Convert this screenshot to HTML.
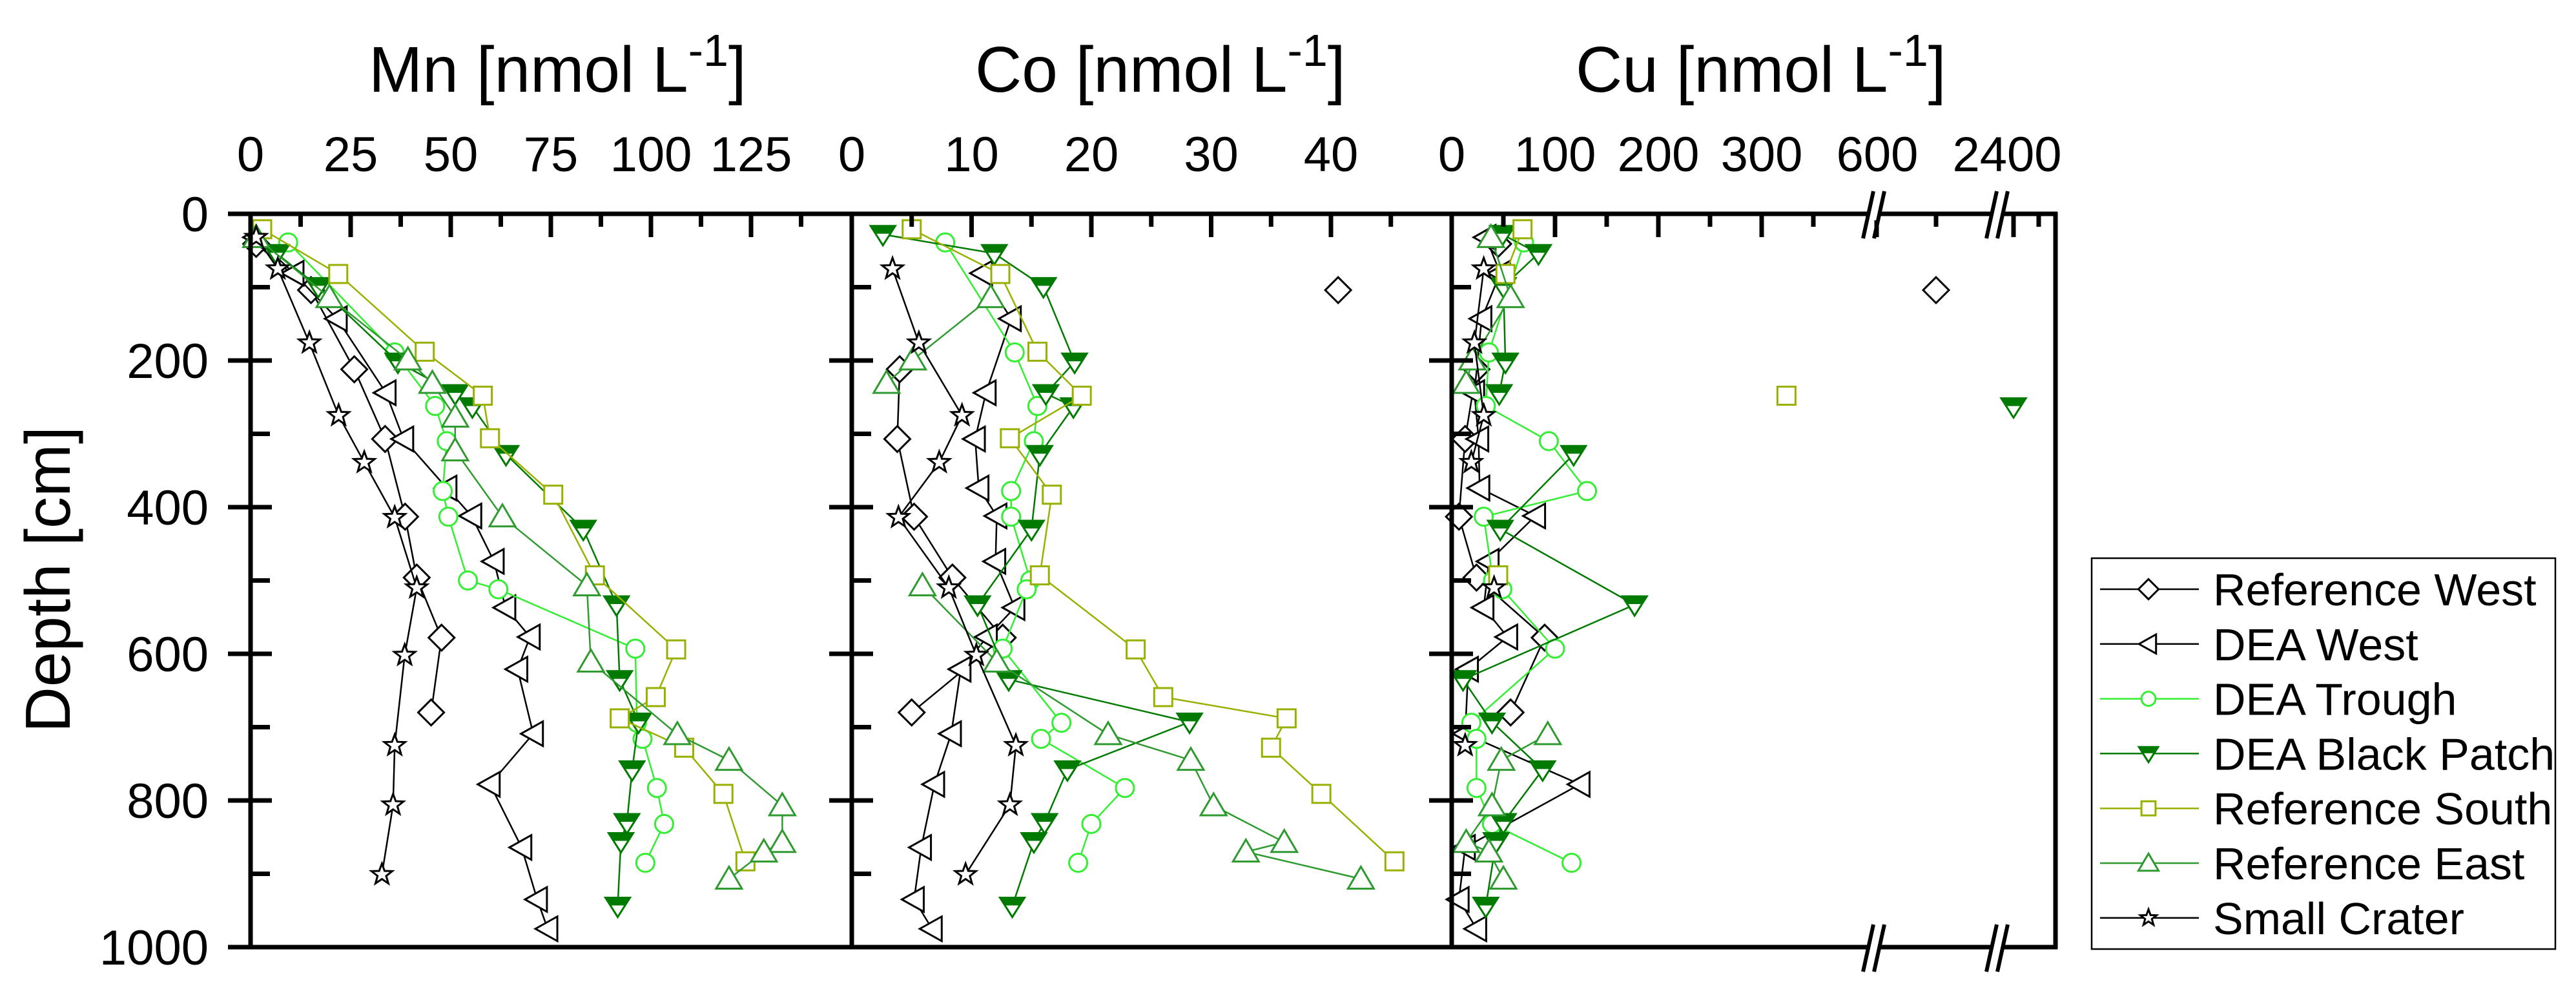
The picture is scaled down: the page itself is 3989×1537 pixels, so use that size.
<!DOCTYPE html>
<html><head><meta charset="utf-8">
<style>
html,body{margin:0;padding:0;background:#fff;}
svg{display:block;font-family:"Liberation Sans",Arial,sans-serif;}
</style></head>
<body>
<svg id="chart" width="3989" height="1537" viewBox="0 0 3989 1537" xmlns="http://www.w3.org/2000/svg">
<rect width="3989" height="1537" fill="#fff"/>
<g id="marks"></g>
<g id="axes"></g>
</svg>
<script>
// ---------- data ----------
const seriesNames = ["Reference West","DEA West","DEA Trough","DEA Black Patch","Reference South","Reference East","Small Crater"];
const refWestDepth = [41,104,212,307,413,496,578,680];
const refWestMn = [1.4,15.1,25.9,33.6,38.6,41.5,47.7,45.1];
const refWestCo = [null,40.6,4,3.8,5.2,8.4,12.6,5];
const refWestCu = [45,650,24,13,7,24,90,57];
const deaWestDepth = [32,81,143,244,307,374,412,474,537,577,621,709,778,864,935,975];
const deaWestMn = [1.2,10.8,21.6,33.8,38.2,49,55.2,60.8,63.7,69.8,66.7,70.6,59.8,67.7,71.6,74.2];
const deaWestCo = [null,10.9,13.3,11.2,10.3,10.6,12.1,12,13.6,11.3,9.1,8.3,6.9,5.8,5.2,6.7];
const deaWestCu = [33,47,29,22,26,27,81,36,31,54,16,13,124,13,7,24];
const troughDepth = [39,189,262,310,378,413,500,512,593,694,716,783,832,885];
const troughMn = [9.4,36,46.1,49,48,49.4,54.3,61.9,96.1,96.5,97.9,101.5,103.3,98.6];
const troughCo = [7.8,13.6,15.5,15.2,13.3,13.3,14.9,14.6,12.6,17.5,15.8,22.8,20,18.9];
const troughCu = [70,36,33,94,131,31,40,49,100,19,24,24,39,116];
const blackDepth = [28,54,99,202,245,263,328,430,533,635,693,758,830,856,944];
const blackMn = [null,6.5,16.9,36.8,51.1,55.4,63.8,83.1,91.4,92.2,96.9,95.3,94,92.5,91.7];
const blackCo = [2.6,11.9,16,18.6,16.2,18.5,15.7,15,10.5,13.1,28.2,18,16.1,15.2,13.4];
const blackCu = [49,84,50,52,46,2400,118,47,177,11,39,88,50,43,33];
const southDepth = [21,82,188,248,306,383,493,594,659,688,728,791,883];
const southMn = [2.9,21.9,43.5,58,59.8,75.6,86,106.3,101.2,92.2,108.3,118.1,123.6];
const southCo = [5,12.4,15.5,19.2,13.2,16.7,15.7,23.7,26,36.3,35,39.2,45.3];
const southCu = [68.5,52,null,324,null,null,45,null,null,null,null,null,null];
const eastDepth = [32,114,199,231,277,323,413,507,611,710,745,807,857,870,907];
const eastMn = [1.4,19.7,39.3,45.4,51.1,51.1,62.9,84,85,106.6,119.5,132.8,132.8,128.2,119.5];
const eastCo = [null,11.6,5.1,2.9,null,null,null,5.9,12.1,21.4,28.3,30.2,36.1,32.9,42.5];
const eastCu = [38,57,20,14,null,null,null,null,null,93,48,39,14,36,50];
const craterDepth = [32,75,176,275,339,414,510,602,725,806,901];
const craterMn = [1.4,6.8,14.7,22,28.4,36,41.5,38.5,36,35.6,32.8];
const craterCo = [null,3.4,5.6,9.2,7.3,3.9,8.1,10.4,13.7,13.2,9.5];
const craterCu = [null,31,22,31,19,null,41,null,13,null,null];
const mnTicks = [0,25,50,75,100,125];
const coTicks = [0,10,20,30,40];
const cuTicks = [0,100,200,300];
const depthTicks = [0,200,400,600,800,1000];

// ---------- scales ----------
const TOP=331, BOT=1466, L=388, D1=1319, D2=2248, R=3183;
function yS(d){return TOP + d*1.135;}
function xMn(v){return L + v*6.2;}
function xCo(v){return D1 + v*18.55;}
function xCu(v){ if(v<=420) return D2 + v*1.6; if(v<=1500) return 2906 + (v-600)*1.84; return 3118 + (v-2400)*0.78; }

const NS="http://www.w3.org/2000/svg";
const marks=document.getElementById('marks');
const axes=document.getElementById('axes');
function el(tag,attrs,parent){const e=document.createElementNS(NS,tag);for(const k in attrs)e.setAttribute(k,attrs[k]);(parent||marks).appendChild(e);return e;}

const styles=[
 {color:"#000000",shape:"diamond",fill:"#fff"},
 {color:"#000000",shape:"left",fill:"#fff"},
 {color:"#33ee33",shape:"circle",fill:"#fff"},
 {color:"#007a00",shape:"down",fill:"#007a00"},
 {color:"#9ab000",shape:"square",fill:"#fff"},
 {color:"#2f9a2f",shape:"up",fill:"#fff"},
 {color:"#000000",shape:"star",fill:"#fff"}
];
function marker(shape,x,y,c,f,g,s){
 s=s||1;let e;
 if(shape==="diamond"){e=el('polygon',{points:`${x},${y-20*s} ${x+20*s},${y} ${x},${y+20*s} ${x-20*s},${y}`},g);}
 else if(shape==="left"){e=el('polygon',{points:`${x-19*s},${y} ${x+15*s},${y-19*s} ${x+15*s},${y+19*s}`},g);}
 else if(shape==="up"){e=el('polygon',{points:`${x},${y-19*s} ${x+20*s},${y+15*s} ${x-20*s},${y+15*s}`},g);}
 else if(shape==="down"){
   e=el('polygon',{points:`${x-19*s},${y-13*s} ${x+19*s},${y-13*s} ${x},${y+17*s}`},g);
   e.setAttribute('fill','#fff');e.setAttribute('stroke',c);e.setAttribute('stroke-width',3);
   el('polygon',{points:`${x-19*s},${y-13*s} ${x+19*s},${y-13*s} ${x+12*s},${y-2*s} ${x-12*s},${y-2*s}`,fill:c,stroke:c,'stroke-width':2},g);
   return;}
 else if(shape==="circle"){e=el('circle',{cx:x,cy:y,r:14*s},g);}
 else if(shape==="square"){e=el('rect',{x:x-14*s,y:y-14*s,width:28*s,height:28*s},g);}
 else if(shape==="star"){let p=[];for(let i=0;i<10;i++){const r=(i%2?7:17)*s;const a=-Math.PI/2+i*Math.PI/5;p.push((x+r*Math.cos(a)).toFixed(1)+','+(y+r*Math.sin(a)).toFixed(1));}e=el('polygon',{points:p.join(' ')},g);}
 e.setAttribute('fill',f);e.setAttribute('stroke',c);e.setAttribute('stroke-width',3);
}
const panels=[
 {key:'mn',xs:xMn,data:[[refWestDepth,refWestMn],[deaWestDepth,deaWestMn],[troughDepth,troughMn],[blackDepth,blackMn],[southDepth,southMn],[eastDepth,eastMn],[craterDepth,craterMn]],solo:[[],[],[],[],[],[],[]]},
 {key:'co',xs:xCo,data:[[refWestDepth,refWestCo],[deaWestDepth,deaWestCo],[troughDepth,troughCo],[blackDepth,blackCo],[southDepth,southCo],[eastDepth,eastCo],[craterDepth,craterCo]],solo:[[1],[],[],[],[],[],[]]},
 {key:'cu',xs:xCu,data:[[refWestDepth,refWestCu],[deaWestDepth,deaWestCu],[troughDepth,troughCu],[blackDepth,blackCu],[southDepth,southCu],[eastDepth,eastCu],[craterDepth,craterCu]],solo:[[1],[],[],[5],[3],[],[]]}
];
panels.forEach(p=>{
 p.data.forEach((sd,si)=>{
  const st=styles[si];const dep=sd[0],val=sd[1];
  const g=el('g',{});
  
  
  let seg=[];
  const flush=()=>{if(seg.length>1)el('polyline',{points:seg.join(' '),fill:'none',stroke:st.color,'stroke-width':2.5},g);seg=[];};
  for(let i=0;i<dep.length;i++){
   if(val[i]===null||p.solo[si].includes(i)){flush();continue;}
   seg.push(p.xs(val[i]).toFixed(1)+','+yS(dep[i]).toFixed(1));
  }
  flush();
  for(let i=0;i<dep.length;i++){ if(val[i]===null)continue;
   marker(st.shape,p.xs(val[i]),yS(dep[i]),st.color,st.fill,g);}
 });
});

// ---------- axes ----------
const A=axes;
function line(x1,y1,x2,y2,w,name){const e=el('line',{x1,y1,x2,y2,stroke:'#000','stroke-width':w||7},A);if(name){}return e;}
function text(t,x,y,size,anchor,name){const e=el('text',{x,y,'font-size':size,'text-anchor':anchor||'middle',fill:'#000'},A);e.textContent=t;return e;}
line(L,TOP-3,L,BOT+3,7,'mn-left-axis');
line(D1,TOP-3,D1,BOT+3,7,'co-left-axis');
line(D2,TOP-3,D2,BOT+3,7,'cu-left-axis');
line(R,TOP-3,R,BOT+3,7,'right-axis');
line(L-3,TOP,R+3,TOP,7,'top-axis');
line(L-3,BOT,R+3,BOT,7,'bottom-axis');
[L,D1,D2].forEach(ax=>{
 for(let d=0;d<=1000;d+=100){const y=yS(d);
  if(d%200===0) line(ax-35,y,ax+33,y,7); else line(ax,y,ax+30,y,7);}
});
depthTicks.forEach(d=>text(String(d),323,yS(d)+27,76,'end','depth-tick-label'));
for(let v=12.5;v<=137.5;v+=12.5){const x=xMn(v);line(x,TOP,x,TOP+(v%25===0?36:20),7);}
mnTicks.forEach(v=>text(String(v),xMn(v),265,76,'middle','mn-tick-label'));
for(let v=5;v<=45;v+=5){const x=xCo(v);line(x,TOP,x,TOP+(v%10===0?36:20),7);}
coTicks.forEach(v=>text(String(v),xCo(v),265,76,'middle','co-tick-label'));
[50,100,150,200,250,300,350].forEach(v=>{const x=xCu(v);line(x,TOP,x,TOP+(v%100===0?36:20),7);});
[600,650,2400,2450].forEach(v=>{const x=xCu(v);line(x,TOP,x,TOP+(v%100===0?36:20),7);});
cuTicks.forEach(v=>text(String(v),xCu(v),265,76,'middle','cu-tick-label'));
text("600",2907,265,76,'middle','cu-tick-label');
text("2400",3108,265,76,'middle','cu-tick-label');
[2902,3093].forEach(bx=>{[TOP,BOT].forEach(by=>{
 el('polygon',{points:`${bx-6},${by-10} ${bx+14},${by-10} ${bx+8},${by+10} ${bx-12},${by+10}`,fill:'#fff'},A);
 line(bx-1,by-35,bx-17,by+38,6);line(bx+16,by-35,bx,by+38,6);
});});
function title(x,label,name){const e=el('text',{x,y:142,'font-size':100,'text-anchor':'start',fill:'#000'},A);
 
 const a=el('tspan',{},e);a.textContent=label+" [nmol L";
 const b=el('tspan',{dy:-40,'font-size':70},e);b.textContent="-1";
 const c=el('tspan',{dy:40},e);c.textContent="]";}
title(571,"Mn",'mn-axis-title');
title(1510,"Co",'co-axis-title');
title(2440,"Cu",'cu-axis-title');
const dl=el('text',{x:0,y:0,'font-size':98,'text-anchor':'middle',transform:'translate(108,897) rotate(-90)',fill:'#000'},A);
dl.textContent="Depth [cm]";


const lg=el('g',{},A);


el('rect',{x:3239,y:864,width:718,height:605,fill:'#fff',stroke:'#000','stroke-width':2.5},lg);
seriesNames.forEach((n,i)=>{
 const y=912+i*84.8;const st=styles[i];
 const g=el('g',{},lg);
 
 
 el('line',{x1:3252,y1:y,x2:3405,y2:y,stroke:st.color,'stroke-width':2.5},g);
 marker(st.shape,3327,y,st.color,st.fill,g,0.78);
 const t=el('text',{x:3427,y:y+25,'font-size':70,fill:'#000'},g);t.textContent=n;
});
</script>
</body></html>
